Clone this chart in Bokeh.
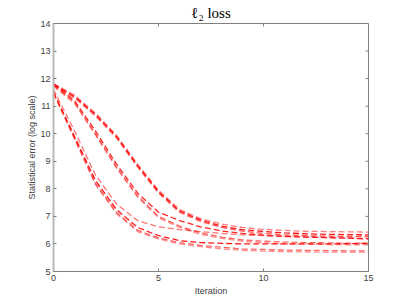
from bokeh.plotting import figure
from bokeh.models import Range1d, FixedTicker, Title
from bokeh.embed import file_html
from bokeh.resources import INLINE

iterations = list(range(16))

# group with fastest decrease
a1 = [11.60, 10.10, 8.50, 7.45, 6.85, 6.62, 6.52, 6.45, 6.38, 6.33, 6.30, 6.27, 6.25, 6.23, 6.21, 6.20]
a2 = [11.50, 9.90, 8.30, 7.25, 6.60, 6.30, 6.12, 6.05, 6.02, 6.00, 6.00, 6.00, 6.00, 6.00, 6.01, 6.02]
a3 = [11.50, 9.85, 8.20, 7.15, 6.50, 6.22, 6.05, 5.95, 5.88, 5.82, 5.80, 5.78, 5.77, 5.76, 5.75, 5.75]
a4 = [11.45, 9.80, 8.15, 7.10, 6.45, 6.18, 6.00, 5.90, 5.82, 5.77, 5.74, 5.72, 5.71, 5.70, 5.70, 5.70]
# middle group
b1 = [11.80, 11.20, 10.10, 8.90, 7.85, 7.15, 6.85, 6.62, 6.47, 6.38, 6.32, 6.28, 6.25, 6.23, 6.21, 6.18]
b2 = [11.75, 11.15, 10.00, 8.80, 7.75, 7.00, 6.65, 6.40, 6.25, 6.15, 6.10, 6.07, 6.05, 6.04, 6.03, 6.03]
b3 = [11.72, 11.10, 9.95, 8.75, 7.70, 6.95, 6.60, 6.35, 6.20, 6.10, 6.04, 6.00, 5.99, 5.98, 5.97, 5.97]
# slowest group
c1 = [11.82, 11.40, 10.75, 9.95, 8.90, 7.95, 7.25, 6.92, 6.72, 6.60, 6.53, 6.49, 6.46, 6.45, 6.44, 6.43]
c2 = [11.80, 11.35, 10.70, 9.90, 8.85, 7.90, 7.20, 6.87, 6.65, 6.52, 6.45, 6.40, 6.37, 6.35, 6.34, 6.33]
c3 = [11.78, 11.30, 10.65, 9.85, 8.80, 7.85, 7.15, 6.82, 6.60, 6.47, 6.38, 6.33, 6.30, 6.28, 6.27, 6.27]

series = [a1, a2, a3, a4, b1, b2, b3, c1, c2, c3]
alphas = [0.55, 0.9, 0.6, 0.45, 0.85, 0.6, 0.45, 0.5, 0.9, 0.65]

x_ticks = [0, 5, 10, 15]
y_ticks = [5, 6, 7, 8, 9, 10, 11, 12, 13, 14]

X0, X1, Y0, Y1 = 0, 15, 5, 14
W, H = 407, 305
BL, BR, BT, BB = 53, 39, 23, 34

p = figure(width=W, height=H, output_backend="svg", toolbar_location=None,
           x_range=Range1d(X0, X1), y_range=Range1d(Y0, Y1),
           min_border_left=BL, min_border_right=BR, min_border_top=BT, min_border_bottom=BB)
p.title = Title(text="ℓ₂ loss", align="center", text_font="Liberation Serif",
                text_font_size="15px", text_font_style="normal", standoff=5, text_color="#000000")

for ys, al in zip(series, alphas):
    p.line(iterations, ys, line_color="#ff0000", line_width=1.3, line_dash="6 3", line_alpha=al)

# mirrored inward ticks on the top and right edges (3 px long)
fw, fh = W - BL - BR, H - BT - BB
tx = 3 * (X1 - X0) / fw
ty = 3 * (Y1 - Y0) / fh
p.segment(x0=x_ticks, y0=[Y1] * len(x_ticks), x1=x_ticks, y1=[Y1 - ty] * len(x_ticks),
          line_color="#808080", line_width=1)
p.segment(x0=[X1] * len(y_ticks), y0=y_ticks, x1=[X1 - tx] * len(y_ticks), y1=y_ticks,
          line_color="#808080", line_width=1)

p.xgrid.visible = False
p.ygrid.visible = False
p.outline_line_color = "#808080"
p.outline_line_width = 1
p.background_fill_color = "white"
p.border_fill_color = "white"

for ax in (p.xaxis[0], p.yaxis[0]):
    ax.major_tick_in = 3
    ax.major_tick_out = 0
    ax.minor_tick_in = 0
    ax.minor_tick_out = 0
    ax.major_label_text_font = "Liberation Sans"
    ax.major_label_text_font_size = "9px"
    ax.major_label_text_color = "#404040"
    ax.axis_label_text_font = "Liberation Sans"
    ax.axis_label_text_font_size = "9px"
    ax.axis_label_text_font_style = "normal"
    ax.axis_label_text_color = "#404040"
    ax.major_tick_line_color = "#808080"
    ax.major_label_standoff = 3

p.xaxis[0].axis_label_standoff = 2
p.yaxis[0].axis_label_standoff = 0
p.xaxis[0].ticker = FixedTicker(ticks=x_ticks)
p.yaxis[0].ticker = FixedTicker(ticks=y_ticks)
p.xaxis[0].axis_label = "Iteration"
p.yaxis[0].axis_label = "Statistical error (log scale)"
p.yaxis[0].axis_line_color = "#b8b8b8"
p.yaxis[0].axis_line_width = 2
p.xaxis[0].axis_line_color = "#808080"

open("out.html", "w").write(file_html(p, INLINE))
